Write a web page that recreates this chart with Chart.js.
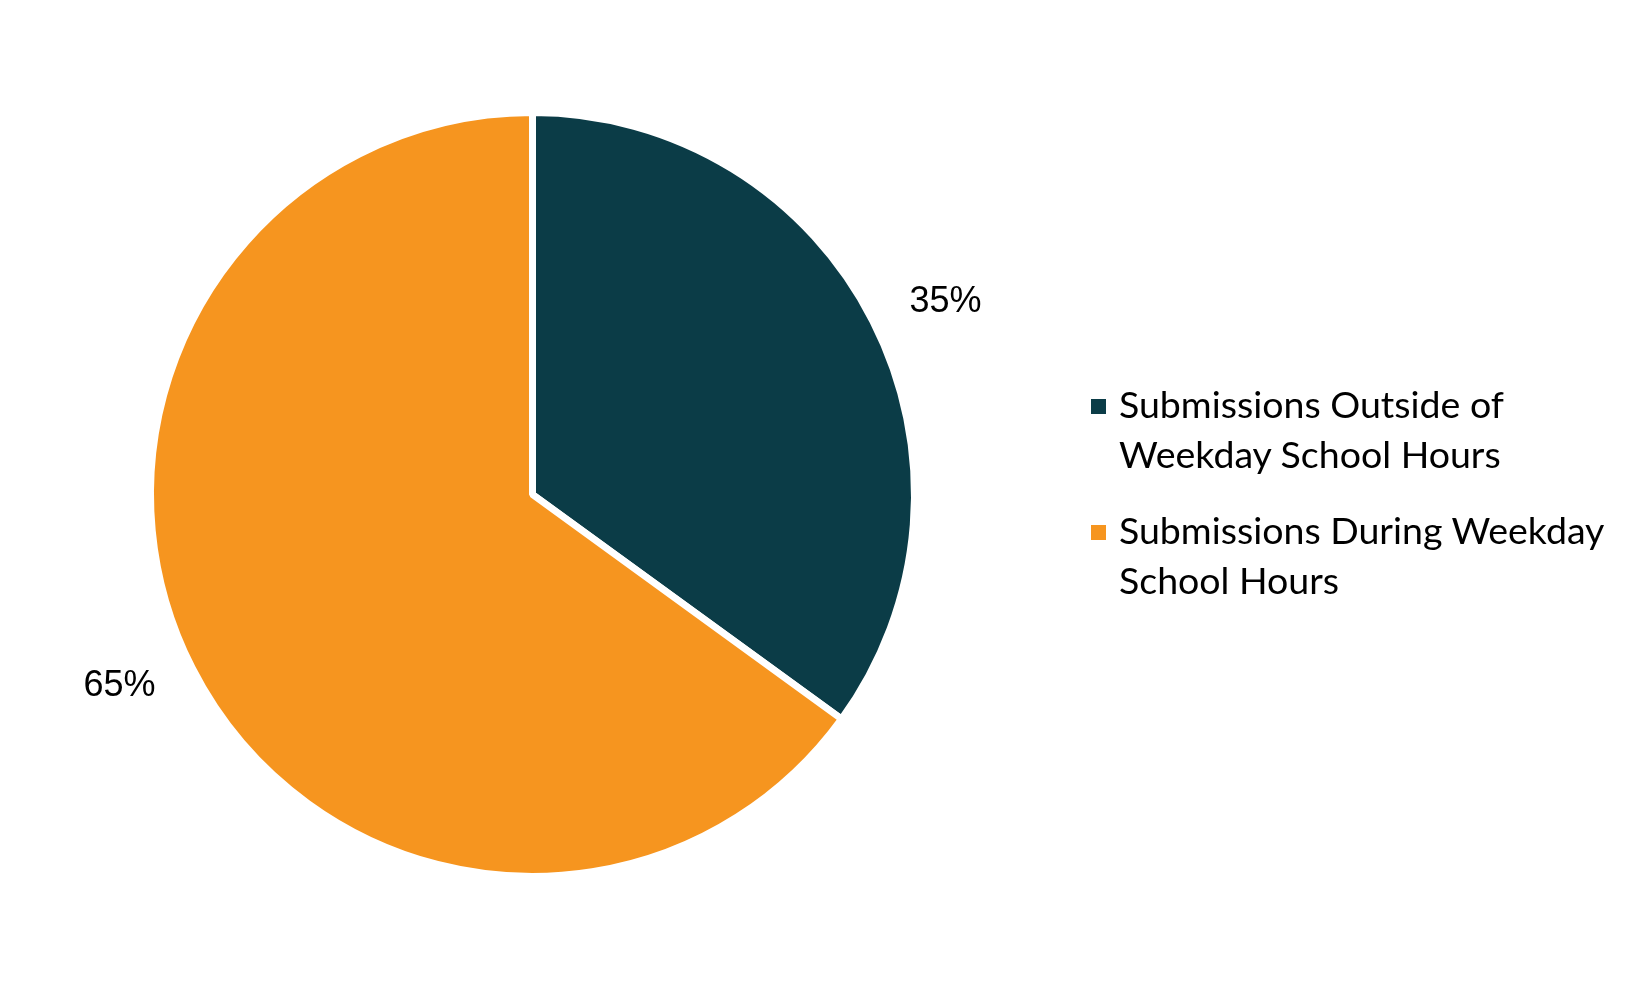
<!DOCTYPE html>
<html>
<head>
<meta charset="utf-8">
<script src="https://cdn.jsdelivr.net/npm/chart.js@4.4.1/dist/chart.umd.min.js"></script>
<style>
    html, body { margin: 0; padding: 0; background: #fff; }
    #wrap { position: relative; width: 1650px; height: 990px; }
    #pieChart { position: absolute; left: 0; top: 0; }
    #legend { position: absolute; left: 1091px; top: 379px; font-family: Lato, "Open Sans", sans-serif; font-size: 37.5px; color: #000; }
    .legend-item { display: flex; align-items: flex-start; margin-bottom: 26px; }
    .legend-box { width: 15px; height: 15px; margin-top: 20px; margin-right: 13px; flex: none; }
    .legend-text { line-height: 50px; white-space: nowrap; }
</style>
</head>
<body>
<div id="wrap">
    <canvas id="pieChart" width="1650" height="990"></canvas>
    <div id="legend"></div>
</div>
<script>
const categories = [
    ['Submissions Outside of', 'Weekday School Hours'],
    ['Submissions During Weekday', 'School Hours']
];
const shares = [35, 65];
const sliceColors = ['#0b3c47', '#f6951f'];

// 조각 바깥쪽에 퍼센트 표시 (오른쪽은 왼쪽 정렬, 왼쪽은 오른쪽 정렬)
const outsideLabels = {
    id: 'outsideLabels',
    afterDatasetsDraw(chart) {
        const { ctx } = chart;
        const meta = chart.getDatasetMeta(0);
        ctx.save();
        ctx.font = '36px "Liberation Sans", Arial, sans-serif';
        ctx.fillStyle = '#000';
        ctx.textBaseline = 'middle';
        meta.data.forEach((arc, i) => {
            const { x, y, startAngle, endAngle, outerRadius } = arc.getProps(['x', 'y', 'startAngle', 'endAngle', 'outerRadius'], true);
            const mid = (startAngle + endAngle) / 2;
            const r = outerRadius + 41;
            ctx.textAlign = Math.cos(mid) >= 0 ? 'left' : 'right';
            ctx.fillText(shares[i] + '%', x + Math.cos(mid) * r, y + Math.sin(mid) * r);
        });
        ctx.restore();
    }
};

const chart = new Chart(document.getElementById('pieChart'), {
    type: 'pie',
    data: {
        labels: categories,
        datasets: [{
            data: shares,
            backgroundColor: sliceColors,
            borderColor: '#fff',
            borderWidth: 7,
            hoverOffset: 0
        }]
    },
    options: {
        responsive: false,
        animation: false,
        devicePixelRatio: 1,
        layout: { padding: { left: 147, top: 109, right: 732, bottom: 110 } },
        plugins: {
            legend: { display: false },
            tooltip: { enabled: false }
        }
    },
    plugins: [outsideLabels]
});

function buildLegend() {
    const legendEl = document.getElementById('legend');
    legendEl.innerHTML = chart.data.labels.map((lines, i) =>
        `<div class="legend-item"><span class="legend-box" style="background:${sliceColors[i]}"></span><span class="legend-text">${lines.join('<br>')}</span></div>`
    ).join('');
}

buildLegend();
</script>
</body>
</html>
